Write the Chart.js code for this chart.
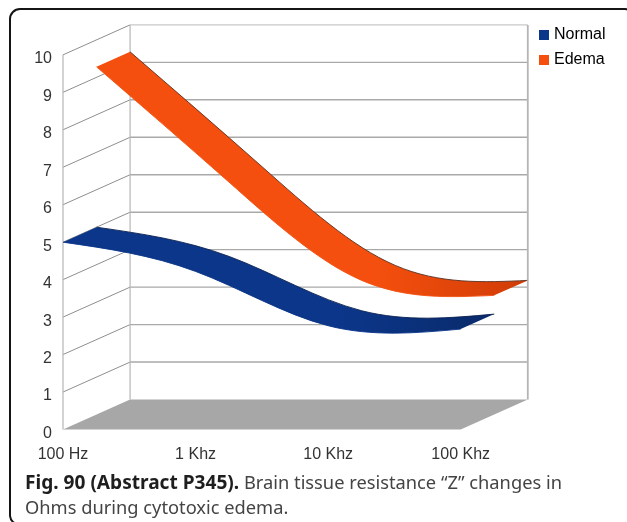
<!DOCTYPE html>
<html>
<head>
<meta charset="utf-8">
<script src="https://cdn.jsdelivr.net/npm/chart.js@4"></script>
<style>
html,body{margin:0;padding:0;background:#fff;width:627px;height:522px;overflow:hidden}
#c{position:absolute;left:0;top:0;filter:blur(0.35px)}
#frame{position:absolute;left:9px;top:8px;width:627px;height:518px;border:2px solid #151515;border-radius:11px;box-sizing:border-box;pointer-events:none}
#cap{position:absolute;left:25px;top:470px;width:600px;font:18.3px/24.5px "Noto Sans",sans-serif;color:#444;white-space:nowrap}
#cap b{color:#1e1e1e;font-size:19.1px}
</style>
</head>
<body>
<canvas id="c" width="627" height="522"></canvas>
<div id="frame"></div>
<div id="cap"><b>Fig. 90 (Abstract P345).</b> Brain tissue resistance “Z” changes in<br>Ohms during cytotoxic edema.</div>
<script>
const categories = ['100 Hz', '1 Khz', '10 Khz', '100 Khz'];
const normalValues = [5.0, 4.22, 2.77, 2.68];
const edemaValues = [9.28, 6.2, 3.58, 3.18];
const yTicks = [0, 1, 2, 3, 4, 5, 6, 7, 8, 9, 10];
const seriesNames = ['Normal', 'Edema'];
const seriesColors = ['#0b3689', '#f44f0e'];

// oblique projection: how far one full unit of depth moves a mark, in axis units
const DEPTH_X = 0.506, DEPTH_Y = 0.80;
const project = (vals, depth) => vals.map((v, i) => ({x: i + depth * DEPTH_X, y: v + depth * DEPTH_Y}));

const edge = (label, vals, depth, color, edgeColor) => ({
  label, data: project(vals, depth), borderColor: edgeColor, backgroundColor: color,
  borderWidth: 0.9, pointRadius: 0, tension: 0.33, fill: false
});

const datasets = [
  edge('Edema', edemaValues, 0.5, seriesColors[1], seriesColors[1]),
  edge('Edema rear edge', edemaValues, 1, seriesColors[1], '#5a3020'),
  edge('Normal', normalValues, 0, seriesColors[0], seriesColors[0]),
  edge('Normal rear edge', normalValues, 0.5, seriesColors[0], '#0a2050')
];

// natural cubic spline through the library's own points, as the curve style of the source chart
function naturalSpline(meta, chart) {
  meta.dataset.updateControlPoints(chart.chartArea);
  const p = meta.data, n = p.length;
  ['x', 'y'].forEach(k => {
    const c = new Array(n).fill(0), d = new Array(n).fill(0), M = new Array(n).fill(0);
    for (let i = 1; i < n - 1; i++) {
      const r = 6 * (p[i-1][k] - 2 * p[i][k] + p[i+1][k]);
      const m = 4 - c[i-1];
      c[i] = 1 / m;
      d[i] = (r - d[i-1]) / m;
    }
    for (let i = n - 2; i > 0; i--) M[i] = d[i] - c[i] * M[i+1];
    for (let i = 0; i < n - 1; i++) {
      const s = p[i+1][k] - p[i][k];
      const d0 = s - (2 * M[i] + M[i+1]) / 6;
      const d1 = s + (M[i] + 2 * M[i+1]) / 6;
      p[i]['cp2' + k] = p[i][k] + d0 / 3;
      p[i+1]['cp1' + k] = p[i+1][k] - d1 / 3;
    }
  });
}

const ribbonPlugin = {
  id: 'ribbon3d',
  afterLayout(chart) {
    const lg = chart.legend, w = lg.width, h = lg.height;
    lg.left = 542 - lg.options.labels.padding; lg.right = lg.left + w;
    lg.top = 18; lg.bottom = lg.top + h;
  },
  beforeDatasetsDraw(chart) {
    const {ctx, scales: {x, y}} = chart;
    chart.data.datasets.forEach((_, i) => naturalSpline(chart.getDatasetMeta(i), chart));
    const X = (v, d) => x.getPixelForValue(v + d * DEPTH_X);
    const Y = (v, d) => y.getPixelForValue(v + d * DEPTH_Y);
    ctx.save();
    // floor
    ctx.fillStyle = '#a7a7a7';
    ctx.beginPath();
    ctx.moveTo(X(0, 0), Y(0, 0)); ctx.lineTo(X(0, 1), Y(0, 1));
    ctx.lineTo(X(3, 1), Y(0, 1)); ctx.lineTo(X(3, 0), Y(0, 0));
    ctx.closePath(); ctx.fill();
    // horizontal wall lines and left-wall diagonals
    yTicks.forEach(t => {
      if (t > 0) {
        ctx.strokeStyle = '#8e8e8e'; ctx.lineWidth = 1;
        ctx.beginPath(); ctx.moveTo(X(0, 0), Y(t, 0)); ctx.lineTo(X(0, 1), Y(t, 1)); ctx.stroke();
        ctx.strokeStyle = t === 10 ? '#c8c8c8' : '#a9a9a9'; ctx.lineWidth = 1.4;
        ctx.beginPath(); ctx.moveTo(X(0, 1), Y(t, 1)); ctx.lineTo(X(3, 1), Y(t, 1)); ctx.stroke();
      }
    });
    // verticals
    ctx.strokeStyle = '#b5b5b5'; ctx.lineWidth = 1.2;
    ctx.beginPath(); ctx.moveTo(X(0, 0), Y(0, 0)); ctx.lineTo(X(0, 0), Y(10, 0)); ctx.stroke();
    ctx.beginPath(); ctx.moveTo(X(0, 1), Y(0, 1)); ctx.lineTo(X(0, 1), Y(10, 1)); ctx.stroke();
    ctx.lineWidth = 1.8;
    ctx.beginPath(); ctx.moveTo(X(3, 1), Y(0, 1)); ctx.lineTo(X(3, 1), Y(10, 1)); ctx.stroke();
    // ribbons between the front and rear edges of each series
    [[0, 1, '#f44f0e', '#d03c06'], [2, 3, '#0b3689', '#0a2a6a']].forEach(([a, b, c1, c2]) => {
      const f = chart.getDatasetMeta(a).data, r = chart.getDatasetMeta(b).data;
      const g = ctx.createLinearGradient(f[0].x, 0, r[r.length - 1].x, 0);
      g.addColorStop(0, c1); g.addColorStop(0.65, c1); g.addColorStop(1, c2);
      ctx.fillStyle = g;
      ctx.beginPath();
      ctx.moveTo(f[0].x, f[0].y);
      for (let i = 1; i < f.length; i++) ctx.bezierCurveTo(f[i-1].cp2x, f[i-1].cp2y, f[i].cp1x, f[i].cp1y, f[i].x, f[i].y);
      ctx.lineTo(r[r.length-1].x, r[r.length-1].y);
      for (let i = r.length - 1; i > 0; i--) ctx.bezierCurveTo(r[i].cp1x, r[i].cp1y, r[i-1].cp2x, r[i-1].cp2y, r[i-1].x, r[i-1].y);
      ctx.closePath(); ctx.fill();
    });
    ctx.restore();
  }
};

new Chart(document.getElementById('c'), {
  type: 'line',
  data: {datasets},
  plugins: [ribbonPlugin],
  options: {
    responsive: false, animation: false, events: [],
    layout: {padding: {left: 0, top: 26, right: 100, bottom: 0}},
    plugins: {
      tooltip: {enabled: false},
      title: {display: false},
      legend: {
        position: 'chartArea', align: 'start',
        labels: {
          usePointStyle: true, pointStyle: 'rect', boxWidth: 4, boxHeight: 10, padding: 9,
          color: '#333', font: {family: '"Liberation Sans"', size: 16, lineHeight: 1},
          filter: item => seriesNames.includes(item.text),
          sort: (a, b) => seriesNames.indexOf(a.text) - seriesNames.indexOf(b.text),
          generateLabels: chart => chart.data.datasets.map((d, i) => ({
            text: d.label, fillStyle: d.backgroundColor, strokeStyle: d.backgroundColor,
            lineWidth: 0, pointStyle: 'rect', datasetIndex: i
          }))
        }
      }
    },
    scales: {
      x: {
        type: 'linear', min: 0, max: 3.5,
        grid: {display: false}, border: {display: false},
        afterFit: s => { s.height = 92.5; },
        afterBuildTicks: s => { s.ticks = categories.map((_, i) => ({value: i})); },
        ticks: {
          autoSkip: false, maxRotation: 0, padding: 7, color: '#333',
          font: {family: '"Liberation Sans"', size: 16},
          callback: v => categories[v]
        }
      },
      y: {
        type: 'linear', min: 0, max: 10.77,
        grid: {display: false}, border: {display: false},
        afterFit: s => { s.width = 63; },
        afterBuildTicks: s => { s.ticks = yTicks.map(v => ({value: v})); },
        ticks: {
          padding: 3, labelOffset: 4, color: '#333',
          font: {family: '"Liberation Sans"', size: 16},
          callback: v => String(v)
        }
      }
    }
  }
});
</script>
</body>
</html>
